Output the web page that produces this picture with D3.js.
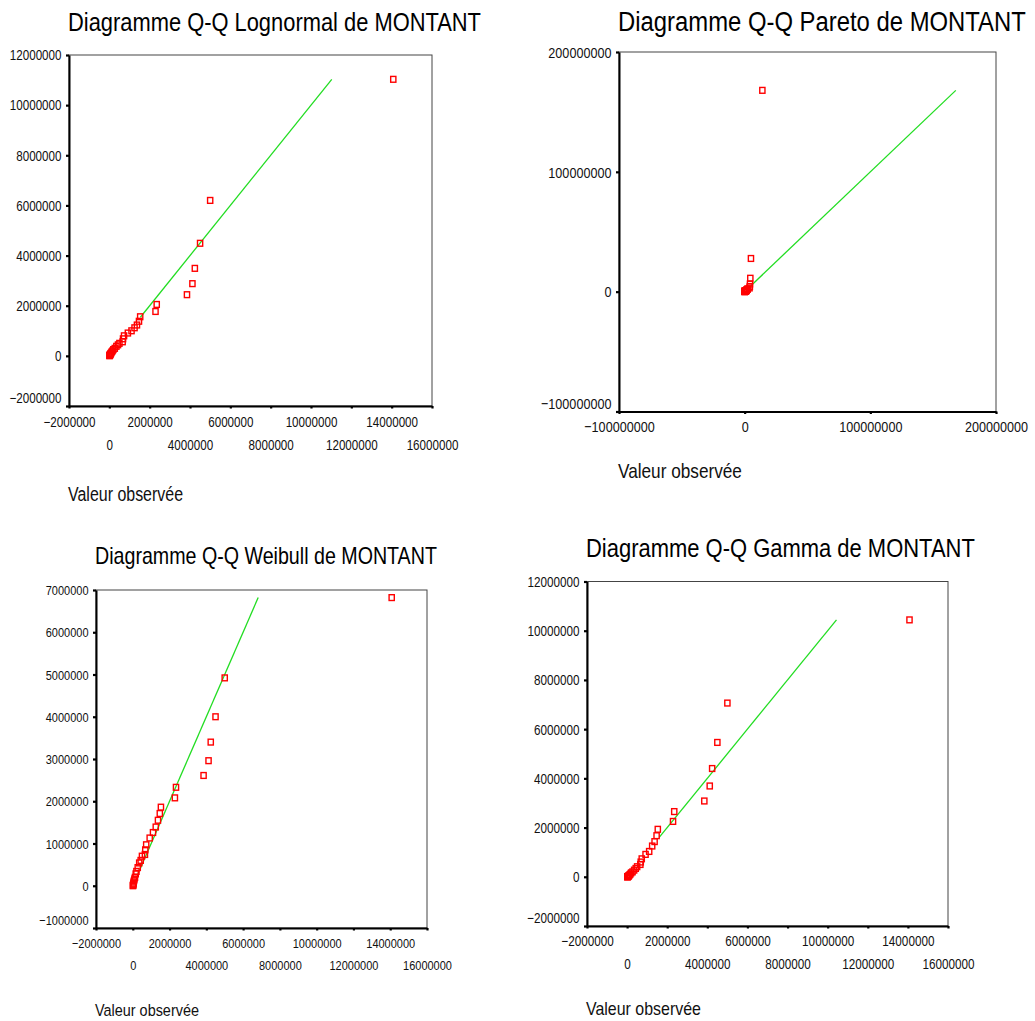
<!DOCTYPE html>
<html><head><meta charset="utf-8">
<script src="https://cdn.jsdelivr.net/npm/d3@7"></script>
<style>body{margin:0;background:#fff} svg{display:block}</style>
</head><body>
<svg id="c" width="1035" height="1021"></svg>
<script>
// ---------- DATA ----------
const observed = [14080000, 5000000, 4500000, 4240000, 4120000, 3850000, 2350000, 2290000,
  1530000, 1470000, 1370000, 1250000, 1100000, 920000, 730000, 680000, 660000, 500000,
  430000, 350000, 270000, 200000, 160000, 120000, 90000, 70000, 50000, 40000, 30000, 20000, 15000, 10000];
const lognormalExpected = [11030000, 6200000, 4490000, 3490000, 2880000, 2440000, 2050000, 1770000,
  1560000, 1380000, 1230000, 1120000, 1000000, 910000, 800000, 680000, 560000, 500000,
  440000, 380000, 300000, 250000, 200000, 160000, 120000, 90000, 70000, 50000, 35000, 25000, 15000, 5000];
const paretoExpected = [168000000, 27700000, 11200000, 6400000, 4300000, 3100000, 2400000, 1900000,
  1500000, 1250000, 1050000, 900000, 780000, 680000, 600000, 530000, 470000, 420000,
  380000, 340000, 310000, 280000, 250000, 230000, 210000, 190000, 170000, 160000, 150000, 140000, 130000, 120000];
const weibullExpected = [6820000, 4920000, 4000000, 3400000, 2960000, 2610000, 2330000, 2080000,
  1860000, 1710000, 1550000, 1390000, 1260000, 1130000, 970000, 850000, 740000, 700000,
  600000, 540000, 430000, 340000, 280000, 200000, 160000, 120000, 90000, 60000, 40000, 20000, 10000, 0];
const gammaExpected = [10440000, 7060000, 5460000, 4400000, 3690000, 3080000, 2650000, 2250000,
  1930000, 1670000, 1430000, 1250000, 1030000, 910000, 730000, 600000, 500000, 410000,
  340000, 270000, 200000, 160000, 110000, 80000, 50000, 30000, 20000, 10000, 8000, 4000, 2000, 0];

const titles = ["Diagramme Q-Q Lognormal de MONTANT", "Diagramme Q-Q Pareto de MONTANT",
                "Diagramme Q-Q Weibull de MONTANT", "Diagramme Q-Q Gamma de MONTANT"];
const xAxisTitle = "Valeur observée";

const xTicksMillions = [-2000000, 0, 2000000, 4000000, 6000000, 8000000, 10000000, 12000000, 14000000, 16000000];
const lognormalYTicks = [-2000000, 0, 2000000, 4000000, 6000000, 8000000, 10000000, 12000000];
const paretoTicks = [-100000000, 0, 100000000, 200000000];
const weibullYTicks = [-1000000, 0, 1000000, 2000000, 3000000, 4000000, 5000000, 6000000, 7000000];
const gammaYTicks = [-2000000, 0, 2000000, 4000000, 6000000, 8000000, 10000000, 12000000];

// reference line (y = x) from..to
const lognormalLine = [1540000, 11030000];
const paretoLine = [5000000, 168000000];
const weibullLine = [280000, 6820000];
const gammaLine = [1600000, 10440000];

// ---------- LAYOUT ----------
const FONT = "'Liberation Sans',Arial,Helvetica,sans-serif";
const NARROW = 0.82;
const panels = [
  {title: titles[0], exp: lognormalExpected, line: lognormalLine, xTicks: xTicksMillions, yTicks: lognormalYTicks,
   frame: [69, 55, 432, 406], titleBase: 30.5, titleSize: 26.5, titleW: 413, tickSize: 14.2, axisSize: 19.3, axisTitleW: 115, axisTitleY: 494,
   rows: [16, 39], twoRows: true},
  {title: titles[1], exp: paretoExpected, line: paretoLine, xTicks: paretoTicks, yTicks: paretoTicks,
   frame: [619, 52, 996, 411.5], titleBase: 30.5, titleSize: 27.5, titleW: 408, tickSize: 15.4, axisSize: 20.5, axisTitleW: 124, axisTitleY: 471,
   rows: [14.5, 14.5], twoRows: false},
  {title: titles[2], exp: weibullExpected, line: weibullLine, xTicks: xTicksMillions, yTicks: weibullYTicks,
   frame: [96, 590, 427, 928], titleBase: 564, titleSize: 23.8, titleW: 342, tickSize: 13.4, axisSize: 17.4, axisTitleW: 104, axisTitleY: 1010,
   rows: [15, 37], twoRows: true},
  {title: titles[3], exp: gammaExpected, line: gammaLine, xTicks: xTicksMillions, yTicks: gammaYTicks,
   frame: [587, 581.5, 948, 926], titleBase: 557, titleSize: 26.5, titleW: 389, tickSize: 14.3, axisSize: 18.5, axisTitleW: 115, axisTitleY: 1009,
   rows: [15, 38], twoRows: true}
];

const svg = d3.select("#c");
const fmt = d3.format("d");

// draw text condensed horizontally to reach a target width
function narrowText(g, str, x, y, size, targetW, dy) {
  const t = g.append("text").attr("font-family", FONT).attr("font-size", size)
    .attr("fill", "#000").attr("dy", dy || 0).text(str);
  const w = t.node().getComputedTextLength();
  const sx = targetW / w;
  t.attr("transform", `translate(${x},${y}) scale(${sx},1)`);
  return t;
}

panels.forEach(p => {
  const [x0, y0, x1, y1] = p.frame;
  const xd = [p.xTicks[0], p.xTicks[p.xTicks.length - 1]];
  const yd = [p.yTicks[0], p.yTicks[p.yTicks.length - 1]];
  const x = d3.scaleLinear().domain(xd).range([x0, x1]);
  const y = d3.scaleLinear().domain(yd).range([y1, y0]);

  // title
  narrowText(svg, p.title, x0 - 1, p.titleBase, p.titleSize, p.titleW);

  // frame (top/right)
  svg.append("rect").attr("x", x0).attr("y", y0).attr("width", x1 - x0).attr("height", y1 - y0)
    .attr("fill", "none").attr("stroke", "#444").attr("stroke-width", 1);

  // y axis
  const gy = svg.append("g").attr("transform", `translate(${x0},0)`)
    .call(d3.axisLeft(y).tickValues(p.yTicks).tickFormat(fmt).tickSize(3).tickSizeOuter(0).tickPadding(4.5));
  gy.select(".domain").attr("stroke", "#000").attr("stroke-width", 2);
  gy.selectAll(".tick line").attr("stroke", "#000").attr("stroke-width", 2.2);
  gy.selectAll(".tick text").attr("font-family", FONT).attr("font-size", p.tickSize).attr("fill", "#111")
    .attr("dy", "0.34em")
    .attr("x", -7.5 / NARROW)
    .attr("y", d => d === yd[0] ? -8 : 0)
    .attr("transform", `scale(${NARROW},1)`);

  // x axis
  const gx = svg.append("g").attr("transform", `translate(0,${y1})`)
    .call(d3.axisBottom(x).tickValues(p.xTicks).tickFormat(fmt).tickSize(2.5).tickSizeOuter(0));
  gx.select(".domain").attr("stroke", "#000").attr("stroke-width", 2);
  gx.selectAll(".tick line").attr("stroke", "#000").attr("stroke-width", 2.2);
  gx.selectAll(".tick text").attr("font-family", FONT).attr("font-size", p.tickSize).attr("fill", "#111")
    .attr("dy", "0.36em")
    .attr("y", (d, i) => p.twoRows ? p.rows[i % 2] : p.rows[0])
    .attr("transform", `scale(${NARROW},1)`);

  // axis title
  narrowText(svg, xAxisTitle, x0 - 1, p.axisTitleY, p.axisSize, p.axisTitleW, "0.35em").attr("fill", "#111");

  // reference line
  svg.append("line")
    .attr("x1", x(p.line[0])).attr("y1", y(p.line[0]))
    .attr("x2", x(p.line[1])).attr("y2", y(p.line[1]))
    .attr("stroke", "#22dd22").attr("stroke-width", 1.3);

  // points
  const pts = observed.map((o, i) => [o, p.exp[i]]);
  svg.append("g").selectAll("rect").data(pts).join("rect")
    .attr("x", d => x(d[0]) - 2.6).attr("y", d => y(d[1]) - 2.9)
    .attr("width", 5.2).attr("height", 5.8)
    .attr("fill", "none")
    .attr("stroke", "#ff0000").attr("stroke-width", 1.4);
});
</script>
</body></html>
